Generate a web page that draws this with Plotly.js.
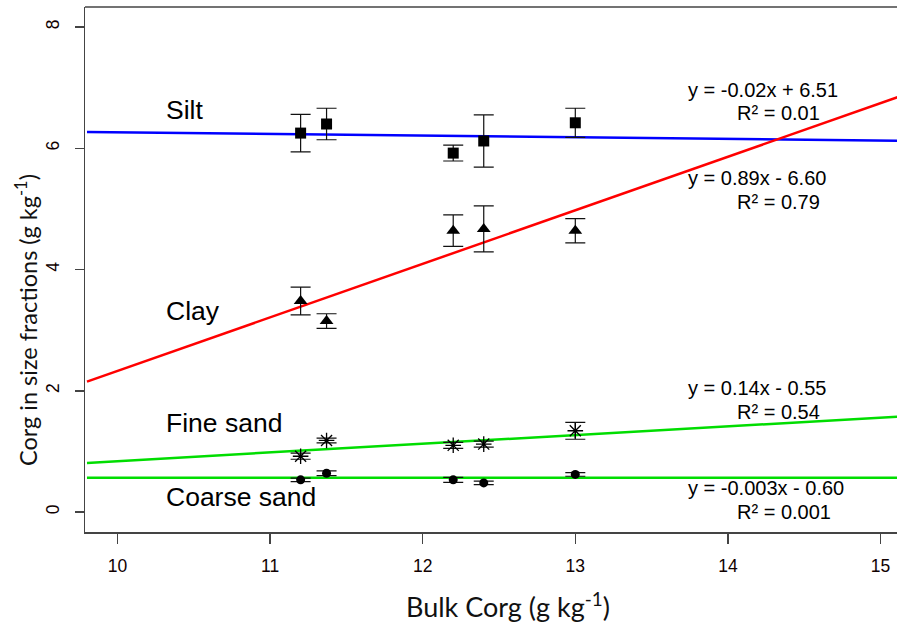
<!DOCTYPE html>
<html>
<head>
<meta charset="utf-8">
<script src="https://cdn.plot.ly/plotly-3.0.1.min.js"></script>
<style>html,body{margin:0;padding:0;background:#fff;}#chart{width:897px;height:623px;}</style>
</head>
<body>
<div id="chart"></div>
<script>
// Bulk Corg (g/kg) of the five samples
const bulkCorg = [11.2, 11.37, 12.2, 12.4, 13.0];
// Corg in size fractions (g/kg) and standard errors
const silt = [6.25, 6.40, 5.92, 6.12, 6.42];
const siltErr = [0.31, 0.26, 0.13, 0.43, 0.24];
const clay = [3.48, 3.15, 4.64, 4.67, 4.64];
const clayErr = [0.23, 0.12, 0.26, 0.38, 0.20];
const fineSand = [0.92, 1.18, 1.10, 1.12, 1.34];
const fineSandErr = [0.05, 0.04, 0.05, 0.05, 0.14];
const coarseSand = [0.53, 0.64, 0.53, 0.48, 0.62];
const coarseSandErr = [0.03, 0.04, 0.04, 0.03, 0.03];
// Regression lines (end points)
const fitX = [9.8, 15.2];
const siltFit = [6.27, 6.12];
const clayFit = [2.15, 6.92];
const fineSandFit = [0.81, 1.585];
const coarseSandFit = [0.565, 0.565];
// Labels
const fractionNames = ["Silt", "Clay", "Fine sand", "Coarse sand"];
const equations = ["y = -0.02x + 6.51", "y = 0.89x - 6.60", "y = 0.14x - 0.55", "y = -0.003x - 0.60"];
const r2Labels = ["R² = 0.01", "R² = 0.79", "R² = 0.54", "R² = 0.001"];
const xTicks = [10, 11, 12, 13, 14, 15];
const yTicks = [0, 2, 4, 6, 8];

const errStyle = (arr) => ({type: 'data', array: arr, visible: true, color: '#111', thickness: 1.2, width: 10});

const traces = [
  {x: fitX, y: siltFit, mode: 'lines', line: {color: '#0000ff', width: 2.5}, hoverinfo: 'skip'},
  {x: fitX, y: clayFit, mode: 'lines', line: {color: '#ff0000', width: 2.5}, hoverinfo: 'skip'},
  {x: fitX, y: fineSandFit, mode: 'lines', line: {color: '#00dd00', width: 2.5}, hoverinfo: 'skip'},
  {x: fitX, y: coarseSandFit, mode: 'lines', line: {color: '#00dd00', width: 2.5}, hoverinfo: 'skip'},
  {x: bulkCorg, y: silt, mode: 'markers', error_y: errStyle(siltErr),
   marker: {symbol: 'square', size: 11, color: '#000'}},
  {x: bulkCorg, y: clay, mode: 'markers', error_y: errStyle(clayErr),
   marker: {symbol: 'triangle-up', size: 12, color: '#000'}},
  {x: bulkCorg, y: fineSand, mode: 'markers', error_y: errStyle(fineSandErr),
   marker: {symbol: 'asterisk-open', size: 13, color: '#000', line: {color: '#000', width: 1.3}}},
  {x: bulkCorg, y: coarseSand, mode: 'markers', error_y: errStyle(coarseSandErr),
   marker: {symbol: 'circle', size: 9, color: '#000'}}
];

const pxX = (p) => 10 + (p - 117.5) / 152.6;
const pxY = (p) => (512 - p) / 60.625;
const nameFont = {family: 'Liberation Sans, Arial, sans-serif', size: 26.5, color: '#000'};
const eqFont = {family: 'Liberation Sans, Arial, sans-serif', size: 20, color: '#000'};
const nameY = [110, 311, 423, 497];
const eqY = [90, 178, 388, 488];
const r2Y = [113, 202, 412, 512];

const annotations = [];
fractionNames.forEach((n, i) => annotations.push({x: pxX(164), y: pxY(nameY[i]), xref: 'x', yref: 'y', text: n,
  showarrow: false, xanchor: 'left', yanchor: 'middle', font: nameFont}));
equations.forEach((e, i) => annotations.push({x: pxX(686), y: pxY(eqY[i]), xref: 'x', yref: 'y', text: e,
  showarrow: false, xanchor: 'left', yanchor: 'middle', font: eqFont}));
r2Labels.forEach((e, i) => annotations.push({x: pxX(735), y: pxY(r2Y[i]), xref: 'x', yref: 'y', text: e,
  showarrow: false, xanchor: 'left', yanchor: 'middle', font: eqFont}));
// axis titles
annotations.push({x: pxX(508), y: 0, xref: 'x', yref: 'paper', yshift: -73, text: 'Bulk Corg (g kg<sup>-1</sup>)',
  showarrow: false, xanchor: 'center', yanchor: 'middle', font: {family: 'Lato, Open Sans, sans-serif', size: 27, color: '#111'}});
annotations.push({x: 0, y: pxY(320), xref: 'paper', yref: 'y', xshift: -59, text: 'Corg in size fractions (g kg<sup>-1</sup>)',
  textangle: -90, showarrow: false, xanchor: 'center', yanchor: 'middle', font: {family: 'Lato, Open Sans, sans-serif', size: 23.5, color: '#111'}});

const tickFont = {family: 'Liberation Sans, Arial, sans-serif', size: 17.5, color: '#100000'};
const layout = {
  width: 897, height: 623,
  margin: {l: 85, r: 0, t: 7, b: 91},
  paper_bgcolor: '#fff', plot_bgcolor: '#fff',
  showlegend: false,
  xaxis: {range: [pxX(85), pxX(897)], tickvals: xTicks, ticktext: xTicks.map(String),
    showgrid: false, zeroline: false, showline: true, linecolor: '#444', linewidth: 1.5,
    ticks: 'outside', ticklen: 10, tickcolor: '#444', tickwidth: 1.5, ticklabelstandoff: 7,
    tickfont: tickFont},
  yaxis: {range: [pxY(532), pxY(7)], tickvals: yTicks, ticktext: yTicks.map(String),
    showgrid: false, zeroline: false, showline: true, linecolor: '#444', linewidth: 1.5,
    ticks: 'outside', ticklen: 9, tickcolor: '#444', tickwidth: 1.5, tickangle: -90, ticklabelstandoff: 9,
    tickfont: tickFont},
  shapes: [{type: 'line', xref: 'paper', yref: 'paper', x0: 0, x1: 1, y0: 1, y1: 1, line: {color: '#444', width: 1.5}}],
  annotations: annotations
};

Plotly.newPlot('chart', traces, layout, {displayModeBar: false, staticPlot: true});
</script>
</body>
</html>
